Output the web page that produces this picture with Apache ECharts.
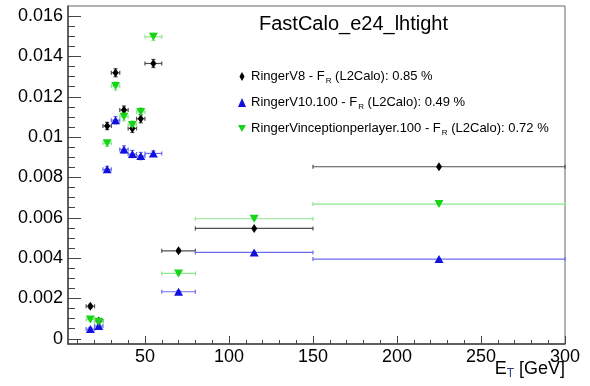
<!DOCTYPE html>
<html>
<head>
<meta charset="utf-8">
<script src="https://cdn.jsdelivr.net/npm/echarts@6/dist/echarts.min.js"></script>
<style>
  html, body { margin: 0; padding: 0; background: #fff; }
  #chart { width: 590px; height: 386px; }
</style>
</head>
<body>
<div id="chart"></div>
<script>
// E_T bins [GeV]
const etLow = [15, 20, 25, 30, 35, 40, 45, 50, 60, 80, 150];
const etHigh = [20, 25, 30, 35, 40, 45, 50, 60, 80, 150, 300];
const etCenter = [17.5, 22.5, 27.5, 32.5, 37.5, 42.5, 47.5, 55, 70, 115, 225];

// fake rate per bin
const v8Rate = [0.00161, 0.00088, 0.01055, 0.01319, 0.01134, 0.01043, 0.01091, 0.01365, 0.00436, 0.00547, 0.00853];
const v8Err = [0.0001, 0.0001, 0.00018, 0.0002, 0.0002, 0.0002, 0.0002, 0.0002, 0.00008, 0.00005, 0.00004];
const v10Rate = [0.00048, 0.00063, 0.0084, 0.01084, 0.00939, 0.00916, 0.00906, 0.00919, 0.00233, 0.00428, 0.00395];
const v10Err = [0.00008, 0.00008, 0.00015, 0.00018, 0.00018, 0.00018, 0.00018, 0.00012, 0.00006, 0.00004, 0.00003];
const vincRate = [0.00096, 0.00084, 0.00969, 0.01253, 0.01101, 0.0106, 0.01125, 0.01497, 0.00324, 0.00595, 0.00668];
const vincErr = [0.0001, 0.0001, 0.00015, 0.0002, 0.0002, 0.0002, 0.0002, 0.00018, 0.00007, 0.00005, 0.00004];

// axis ranges / ticks
const xMin = 4.2, xMax = 300, xStep = 50;
const yMin = -0.00026, yMax = 0.0165, yStep = 0.002;

const names = [
  "RingerV8 - F_R (L2Calo): 0.85 %",
  "RingerV10.100 - F_R (L2Calo): 0.49 %",
  "RingerVinceptionperlayer.100 - F_R (L2Calo): 0.72 %",
];
const markColors = ["#000000", "#1212dc", "#17d417"];
const barColors = ["#505050", "#6c6cf0", "#8ee68e"];

const font = "'Liberation Sans', Arial, sans-serif";

const chart = echarts.init(document.getElementById("chart"), null, { renderer: "canvas" });

function errorSeries(rate, err, idx) {
  const data = etCenter.map((x, i) => [x, rate[i], etLow[i], etHigh[i], err[i]]);
  return {
    type: "custom",
    xAxisIndex: 0,
    yAxisIndex: 0,
    z: 2,
    silent: true,
    data: data,
    renderItem: function (params, api) {
      const y = api.value(1);
      const p0 = api.coord([api.value(2), y]);
      const p1 = api.coord([api.value(3), y]);
      const pc = api.coord([api.value(0), y]);
      const lo = api.coord([api.value(0), y - api.value(4)]);
      const hi = api.coord([api.value(0), y + api.value(4)]);
      const style = { stroke: barColors[idx], lineWidth: 1.2 };
      const cap = 2;
      return {
        type: "group",
        children: [
          { type: "line", shape: { x1: p0[0], y1: p0[1], x2: p1[0], y2: p1[1] }, style: style },
          { type: "line", shape: { x1: p0[0], y1: p0[1] - cap, x2: p0[0], y2: p0[1] + cap }, style: style },
          { type: "line", shape: { x1: p1[0], y1: p1[1] - cap, x2: p1[0], y2: p1[1] + cap }, style: style },
          { type: "line", shape: { x1: pc[0], y1: lo[1], x2: pc[0], y2: hi[1] }, style: style },
          { type: "line", shape: { x1: pc[0] - cap, y1: lo[1], x2: pc[0] + cap, y2: lo[1] }, style: style },
          { type: "line", shape: { x1: pc[0] - cap, y1: hi[1], x2: pc[0] + cap, y2: hi[1] }, style: style },
        ],
      };
    },
  };
}

function markSeries(rate, idx, symbol, size) {
  return {
    name: names[idx],
    type: "scatter",
    xAxisIndex: 0,
    yAxisIndex: 0,
    z: 3,
    symbol: symbol,
    symbolSize: size,
    itemStyle: { color: markColors[idx], opacity: 1 },
    data: etCenter.map((x, i) => [x, rate[i]]),
  };
}

const downTri = "path://M0,0 L10,0 L5,9 Z";
// legend diamond kept narrow inside the 8x9 icon box
const legendDiamond = "path://M0,0 M8,9 M4,0 L6.5,4.5 L4,9 L1.5,4.5 Z";

const hiddenAxis = { show: false };

chart.setOption({
  animation: false,
  backgroundColor: "#ffffff",
  textStyle: { fontFamily: font },
  grid: [
    // main frame
    { left: 68, right: 25, top: 6, bottom: 42, show: true, borderColor: "#666", borderWidth: 1 },
    // x minor ticks (axis starting at 0)
    { left: 68 - (xMin * 497) / (xMax - xMin), right: 25, top: 6, bottom: 42 },
    // y minor ticks (axis starting at 0)
    { left: 68, right: 25, top: 6, bottom: 386 - (344 - (-yMin * 338) / (yMax - yMin)) },
  ],
  xAxis: [
    {
      type: "value",
      gridIndex: 0,
      min: xMin,
      max: xMax,
      splitNumber: 6,
      minInterval: xStep,
      maxInterval: xStep,
      axisLine: { show: true, onZero: false, lineStyle: { color: "#444", width: 1.5 } },
      axisTick: { show: true, inside: true, length: 8, lineStyle: { color: "#444" } },
      axisLabel: { show: true, showMinLabel: false, color: "#000", fontSize: 18, margin: 4, fontFamily: font },
      splitLine: { show: false },
    },
    {
      type: "value",
      gridIndex: 1,
      min: 0,
      max: xMax,
      interval: xStep,
      axisLine: { show: false },
      axisTick: { show: false, inside: true },
      axisLabel: { show: false },
      splitLine: { show: false },
      minorTick: { show: true, splitNumber: 5, length: 4, lineStyle: { color: "#444", width: 1 } },
    },
    Object.assign({ gridIndex: 2, type: "value" }, hiddenAxis),
  ],
  yAxis: [
    {
      type: "value",
      gridIndex: 0,
      min: yMin,
      max: yMax,
      splitNumber: 8,
      minInterval: yStep,
      maxInterval: yStep,
      axisLine: { show: true, onZero: false, lineStyle: { color: "#444", width: 1.5 } },
      axisTick: { show: true, inside: true, length: 13, lineStyle: { color: "#444" } },
      axisLabel: { show: true, showMinLabel: false, showMaxLabel: false, color: "#000", fontSize: 18, margin: 5, fontFamily: font },
      splitLine: { show: false },
    },
    Object.assign({ gridIndex: 1, type: "value" }, hiddenAxis),
    {
      type: "value",
      gridIndex: 2,
      min: 0,
      max: yMax,
      interval: yStep,
      axisLine: { show: false },
      axisTick: { show: false, inside: true },
      axisLabel: { show: false },
      splitLine: { show: false },
      minorTick: { show: true, splitNumber: 4, length: 7, lineStyle: { color: "#444", width: 1 } },
    },
  ],
  legend: {
    orient: "vertical",
    left: 233,
    top: 63,
    itemGap: 9,
    itemWidth: 8,
    itemHeight: 9,
    data: [
      { name: names[0], icon: legendDiamond },
      { name: names[1] },
      { name: names[2] },
    ],
    formatter: function (name) {
      const parts = name.split("F_R");
      return "{n|" + parts[0] + "F}{s|R}{n|" + parts[1] + "}";
    },
    textStyle: {
      padding: [0, 0, 0, 0],
      rich: {
        n: { fontSize: 13, fontFamily: font, color: "#000", lineHeight: 17 },
        s: { fontSize: 8, fontFamily: font, color: "#000", lineHeight: 17, verticalAlign: "bottom", padding: [9, 0, 0, 1] },
      },
    },
  },
  graphic: [
    {
      type: "text",
      left: 259,
      top: 14,
      style: { text: "FastCalo_e24_lhtight", font: "20px " + font, fill: "#000" },
    },
    {
      type: "text",
      right: 25,
      top: 360,
      style: {
        text: "E{t|T} [GeV]",
        font: "18px " + font,
        fill: "#000",
        rich: {
          t: { fontSize: 12, fontFamily: font, fill: "#2a3f7a", padding: [10, 0, 0, 0] },
        },
      },
    },
  ],
  series: [
    errorSeries(v8Rate, v8Err, 0),
    errorSeries(v10Rate, v10Err, 1),
    errorSeries(vincRate, vincErr, 2),
    markSeries(v8Rate, 0, "diamond", [6, 9]),
    markSeries(v10Rate, 1, "triangle", [9, 8]),
    markSeries(vincRate, 2, downTri, [9, 8]),
  ],
});
</script>
</body>
</html>
